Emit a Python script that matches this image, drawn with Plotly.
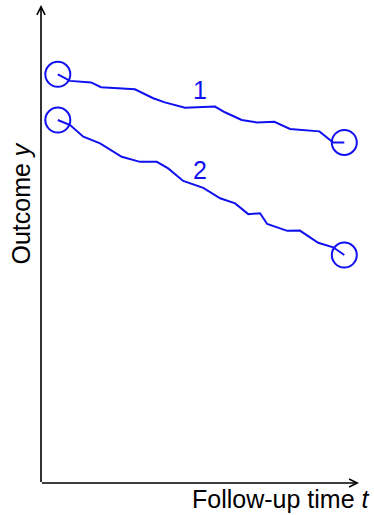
import plotly.graph_objects as go

# Patient 1 trajectory
t1 = [0.56, 0.97, 1.67, 2.00, 3.13, 3.74, 4.13, 4.80, 5.80, 6.13, 6.69, 7.19, 7.78, 8.30, 9.28, 9.74, 10.11]
y1 = [13.68, 13.46, 13.41, 13.25, 13.18, 12.88, 12.74, 12.56, 12.60, 12.41, 12.15, 12.07, 12.09, 11.85, 11.77, 11.40, 11.40]
# Patient 2 trajectory
t2 = [0.56, 0.97, 1.41, 1.97, 2.69, 3.30, 3.86, 4.24, 4.74, 5.41, 5.97, 6.47, 6.91, 7.30, 7.54, 8.21, 8.63, 9.24, 9.74, 10.11]
y2 = [12.15, 11.98, 11.59, 11.37, 10.92, 10.75, 10.75, 10.53, 10.11, 9.88, 9.53, 9.36, 9.00, 9.03, 8.67, 8.44, 8.45, 8.04, 7.89, 7.63]
labels = ["1", "2"]
label_pos = [(5.3, 13.15), (5.3, 10.49)]

BLUE = "#1010f0"
FONT = "Liberation Sans"
fig = go.Figure()
for t, y in [(t1, y1), (t2, y2)]:
    fig.add_trace(go.Scatter(x=t, y=y, mode="lines", line=dict(color=BLUE, width=2), showlegend=False))
    fig.add_trace(go.Scatter(x=[t[0], t[-1]], y=[y[0], y[-1]], mode="markers",
                             marker=dict(symbol="circle-open", size=25, color=BLUE, line=dict(width=2)),
                             showlegend=False))

for lab, (lx, ly) in zip(labels, label_pos):
    fig.add_annotation(x=lx, y=ly, text=lab, showarrow=False, font=dict(color=BLUE, size=25, family=FONT))

# axes with arrows
fig.add_annotation(x=10.6, y=0, ax=-0.02, ay=0, xref="x", yref="y", axref="x", ayref="y",
                   text="", showarrow=True, arrowhead=5, arrowsize=1, arrowwidth=1.6, arrowcolor="black")
fig.add_annotation(x=0, y=16, ax=0, ay=-0.02, xref="x", yref="y", axref="x", ayref="y",
                   text="", showarrow=True, arrowhead=5, arrowsize=1, arrowwidth=1.6, arrowcolor="black")

# axis titles (paper coords; plot area is 318 x 478 px)
fig.add_annotation(x=-21 / 318, y=(483 - 203.5) / 478, xref="paper", yref="paper", text="Outcome <i>y</i>",
                   textangle=-90, xanchor="center", yanchor="middle",
                   showarrow=False, font=dict(size=25, family=FONT, color="black"))
fig.add_annotation(x=(372 - 41) / 318, y=-16 / 478, xref="paper", yref="paper", text="Follow-up time <i>t</i>",
                   xanchor="right", yanchor="middle",
                   showarrow=False, font=dict(size=25, family=FONT, color="black"))

fig.update_xaxes(range=[0, 10.6], visible=False, fixedrange=True)
fig.update_yaxes(range=[0, 16], visible=False, fixedrange=True)
fig.update_layout(width=374, height=515, margin=dict(l=41, r=15, t=5, b=32),
                  plot_bgcolor="white", paper_bgcolor="white")
fig.write_html("out.html", config={"displayModeBar": False},
               post_script="document.body.style.margin='0';document.body.style.padding='0';")
